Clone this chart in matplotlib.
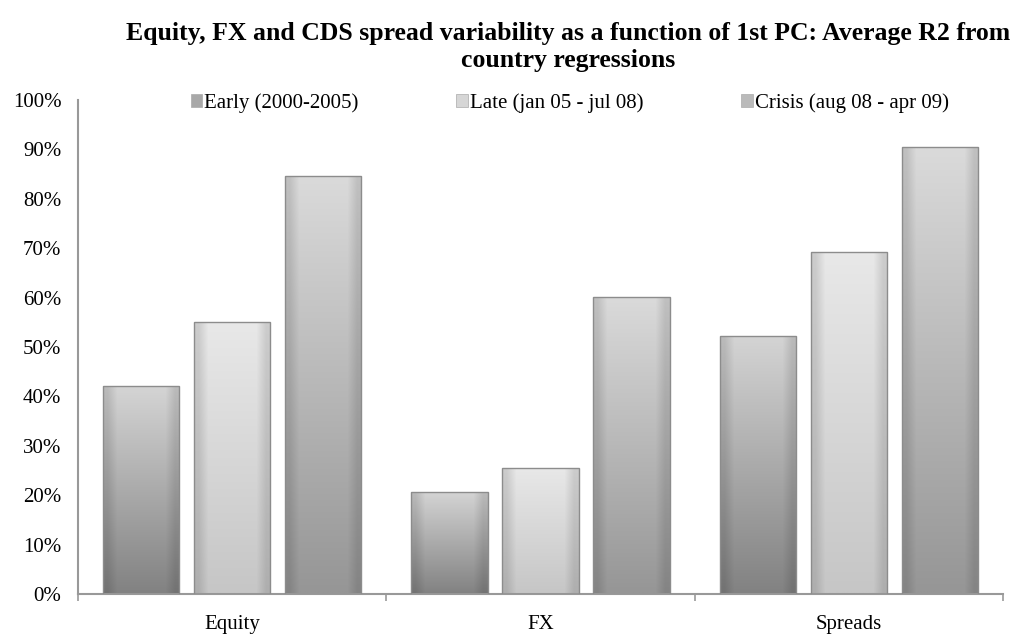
import matplotlib.pyplot as plt
import numpy as np
from matplotlib.patches import Patch, Rectangle
from matplotlib.ticker import PercentFormatter

categories = ["Equity", "FX", "Spreads"]
series_names = ["Early (2000-2005)", "Late (jan 05 - jul 08)", "Crisis (aug 08 - apr 09)"]
early = [0.42, 0.207, 0.523]
late = [0.55, 0.256, 0.692]
crisis = [0.846, 0.602, 0.904]
series = [early, late, crisis]

# gradient colours (top, bottom) for each series
grad = [("#d4d4d4", "#828282"), ("#e8e8e8", "#c6c6c6"), ("#dadada", "#969696")]
mid = ["#a8a8a8", "#d6d6d6", "#bababa"]

plt.rcParams['font.family'] = ['Liberation Serif', 'DejaVu Serif']

fig = plt.figure(figsize=[10.21, 6.36], dpi=100)
ax = fig.add_axes([0.0764, 0.066, 0.9060, 0.777])

x = np.arange(len(categories))
pitch = 0.295
width = 0.247


def hex2rgb(h):
    h = h.lstrip('#')
    return np.array([int(h[i:i + 2], 16) / 255. for i in (0, 2, 4)])


for i, vals in enumerate(series):
    top, bot = hex2rgb(grad[i][0]), hex2rgb(grad[i][1])
    t = np.linspace(0, 1, 64)[:, None]
    img = (top * (1 - t) + bot * t)[:, None, :]
    img = np.repeat(img, 8, axis=1)
    # slight shading at the sides
    shade = np.ones(8)
    shade[0] = shade[-1] = 0.88
    img = img * shade[None, :, None]
    for j, v in enumerate(vals):
        x0 = x[j] + (i - 1) * pitch - width / 2
        im = ax.imshow(img, extent=[x0, x0 + width, 0, v], aspect='auto',
                       interpolation='bilinear', zorder=2)
        rect = Rectangle((x0, 0), width, v, facecolor='none',
                         edgecolor='#8c8c8c', linewidth=1.0, zorder=3)
        ax.add_patch(rect)
        im.set_clip_path(rect)

ax.set_xlim(-0.5, 2.5)
ax.set_ylim(0, 1.0)
ax.yaxis.set_major_locator(plt.MultipleLocator(0.1))
ax.yaxis.set_major_formatter(PercentFormatter(1.0, decimals=0))
ax.set_xticks(x)
ax.set_xticklabels(categories)
ax.set_xticks([-0.5, 0.5, 1.5, 2.5], minor=True)
ax.tick_params(axis='x', which='major', length=0, pad=15, labelsize=15)
ax.tick_params(axis='x', which='minor', length=5, width=1.2, color='#999999')
ax.tick_params(axis='y', length=0, pad=12, labelsize=15)

for s in ['top', 'right']:
    ax.spines[s].set_visible(False)
for s in ['left', 'bottom']:
    ax.spines[s].set_color('#999999')
    ax.spines[s].set_linewidth(1.5)

handles = [Patch(facecolor=mid[i], edgecolor='#aaaaaa', linewidth=0.5) for i in range(3)]
fig.legend(handles, series_names, loc='center', bbox_to_anchor=(0.558, 0.838),
           ncol=3, frameon=False, fontsize=15, handlelength=0.55, handleheight=0.55,
           handletextpad=0.1, columnspacing=4.7)

fig.text(0.556, 0.926, "Equity, FX and CDS spread variability as a function of 1st PC: Average R2 from\ncountry regressions",
         ha='center', va='center', fontsize=18.5, fontweight='bold', linespacing=1.2)

fig.savefig("out.png", dpi=100)
